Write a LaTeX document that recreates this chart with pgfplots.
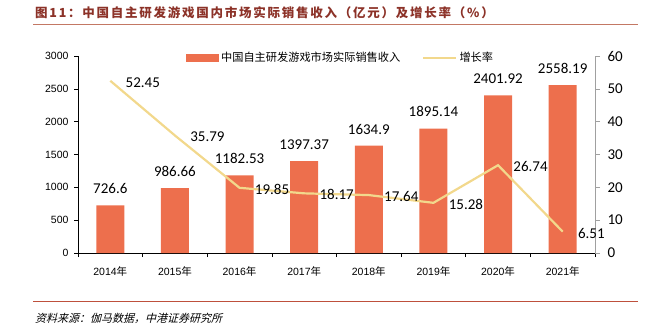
\documentclass[border=0pt]{standalone}
\usepackage{fontspec}
\usepackage{pgfplots}
\pgfplotsset{compat=1.18}
\setmainfont{Liberation Sans}
\newfontfamily\cjk{Noto Sans CJK SC}
\newfontfamily\cjkt[LetterSpace=14]{Noto Sans CJK SC}
\newfontfamily\cjkit[FakeSlant=0.25]{Noto Sans CJK SC}
\newfontfamily\carl{Carlito}
\definecolor{barc}{RGB}{237,111,77}
\definecolor{linec}{RGB}{242,216,140}
\definecolor{titc}{RGB}{140,50,40}
\definecolor{ruleA}{RGB}{195,120,100}
\definecolor{ruleB}{RGB}{190,80,60}
\definecolor{raxis}{RGB}{160,160,160}
\newcommand\nian{{\cjk 年}}
\begin{document}
\begin{tikzpicture}
\useasboundingbox (0,0) rectangle (648bp,328bp);
\node[anchor=west, text=titc, font=\cjkt\bfseries\fontsize{12.5bp}{15bp}\selectfont, inner sep=0] at (35bp,315bp) {图11：中国自主研发游戏国内市场实际销售收入（亿元）及增长率（\%）};
\draw[ruleA, line width=1bp] (33bp,303bp) -- (638bp,303bp);
\draw[ruleB, line width=1bp] (33bp,26bp) -- (638bp,26bp);
\node[anchor=west, font=\cjkit\fontsize{11bp}{13bp}\selectfont, inner sep=0] at (35bp,10bp) {资料来源：伽马数据，中港证券研究所};

\begin{axis}[
  at={(78bp,75bp)}, anchor=south west, scale only axis,
  width=517bp, height=197bp,
  xmin=-0.5, xmax=7.5, ymin=0, ymax=3000,
  axis y line*=left, axis x line*=bottom,
  axis line style={black, line width=0.8bp},
  xtick={0,...,7},
  xticklabels={2014\nian,2015\nian,2016\nian,2017\nian,2018\nian,2019\nian,2020\nian,2021\nian},
  major x tick style={draw=none},
  minor xtick={-0.5,0.5,...,7.5},
  minor x tick style={black, line width=0.6bp},
  ytick={0,500,...,3000},
  ytick style={black, line width=0.6bp},
  xtick align=outside, ytick align=outside,
  major tick length=4bp, minor tick length=4bp,
  /pgf/number format/1000 sep={},
  /pgf/number format/assume math mode=true,
  yticklabel style={font=\fontsize{10.5bp}{12bp}\selectfont, xshift=-2bp},
  xticklabel style={font=\fontsize{10.5bp}{12bp}\selectfont, yshift=-6bp},
  legend columns=2,
  legend style={at={(0.203,0.99)}, anchor=west, draw=none, fill=none,
    font=\cjk\fontsize{11.2bp}{13bp}\selectfont,
    /tikz/every even column/.append style={column sep=20bp}},
]
\addplot[ybar, bar width=28bp, fill=barc, draw=none,
  legend image code/.code={\fill[barc] (0bp,-4bp) rectangle (33bp,4bp);},
  nodes near coords, point meta=explicit symbolic,
  every node near coord/.style={anchor=south, yshift=8bp, text=black, font=\carl\fontsize{15bp}{18bp}\selectfont}]
coordinates {(0,726.6)[726.6] (1,986.66)[986.66] (2,1182.53)[1182.53] (3,1397.37)[1397.37]
 (4,1634.9)[1634.9] (5,1895.14)[1895.14] (6,2401.92)[2401.92] (7,2558.19)[2558.19]};
\addlegendentry{中国自主研发游戏市场实际销售收入}
\addlegendimage{legend image code/.code={\draw[linec, line width=2.2bp] (0bp,0bp) -- (33bp,0bp);}}
\addlegendentry{增长率}
\end{axis}

\begin{axis}[
  at={(78bp,75bp)}, anchor=south west, scale only axis,
  width=517bp, height=197bp,
  xmin=-0.5, xmax=7.5, ymin=0, ymax=60,
  axis y line*=right, axis x line=none, xtick=\empty,
  y axis line style={raxis, line width=0.8bp},
  ytick={0,10,...,60},
  ytick style={raxis, line width=0.6bp},
  ytick align=outside, major tick length=5bp,
  /pgf/number format/assume math mode=true,
  yticklabel style={font=\carl\fontsize{15bp}{18bp}\selectfont, xshift=4bp},
  clip=false,
]
\addplot[linec, line width=2.2bp, mark=none,
  nodes near coords, point meta=explicit symbolic,
  every node near coord/.style={anchor=west, xshift=11bp, yshift=-1.5bp, text=black, font=\carl\fontsize{15bp}{18bp}\selectfont}]
coordinates {(0,52.45)[52.45] (1,35.79)[35.79] (2,19.85)[19.85] (3,18.17)[18.17]
 (4,17.64)[17.64] (5,15.28)[15.28] (6,26.74)[26.74] (7,6.51)[6.51]};
\end{axis}
\end{tikzpicture}
\end{document}
